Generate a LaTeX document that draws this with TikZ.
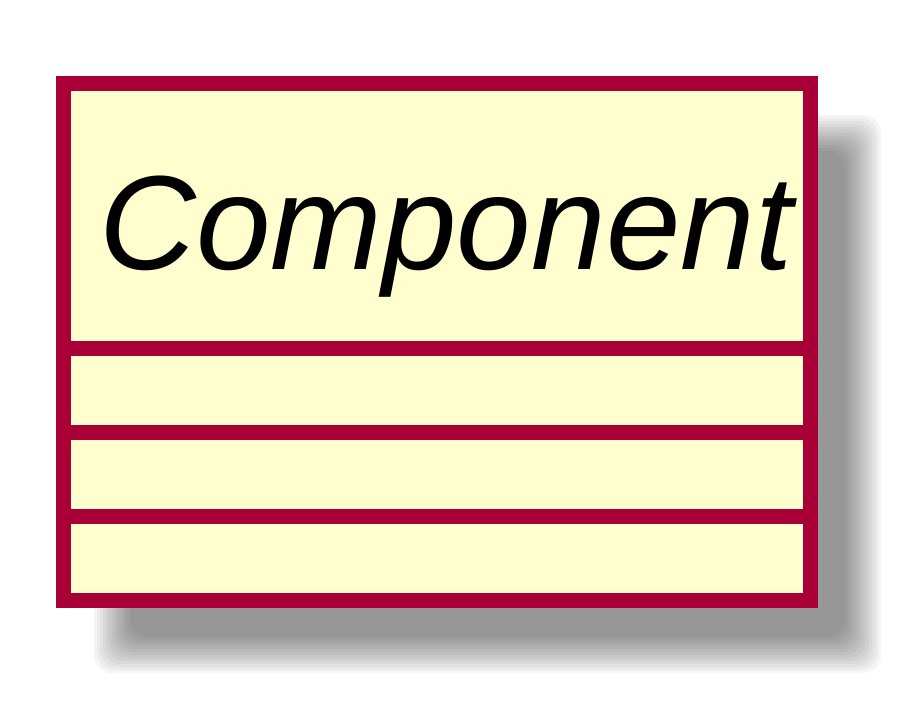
\documentclass[tikz,border=0pt]{standalone}
\usepackage{fontspec}
\setmainfont{Liberation Sans}
\definecolor{umlred}{HTML}{A80036}
\definecolor{umlfill}{HTML}{FEFECE}
\begin{document}
\begin{tikzpicture}[x=1pt, y=-1pt,
    classline/.style={draw=umlred, line width=15pt},
    shadowlayer/.style={fill=black, opacity=0.038, rounded corners=18pt}]
  \useasboundingbox (0,0) rectangle (915,706);

  % Sombra difusa de la clase, recortada
  \begin{scope}
    \clip (94,115) rectangle (882,672);
    \foreach \d in {18,15,...,-18}
      \fill[shadowlayer] (112-\d,133-\d) rectangle (863+\d,655+\d);
  \end{scope}

  % Caja de la clase
  \fill[umlfill] (63.5,84) rectangle (810.5,600);
  \draw[classline] (63.5,84) rectangle (810.5,600);

  % Separadores de atributos y metodos
  \foreach \y in {348,432,516}
    \draw[classline] (63.5,\y) -- (810.5,\y);

  % Nombre de la clase
  \node[inner sep=0pt, anchor=base, font=\fontsize{134}{134}\selectfont\itshape]
    (classname) at (446,269) {Component};
\end{tikzpicture}
\end{document}
